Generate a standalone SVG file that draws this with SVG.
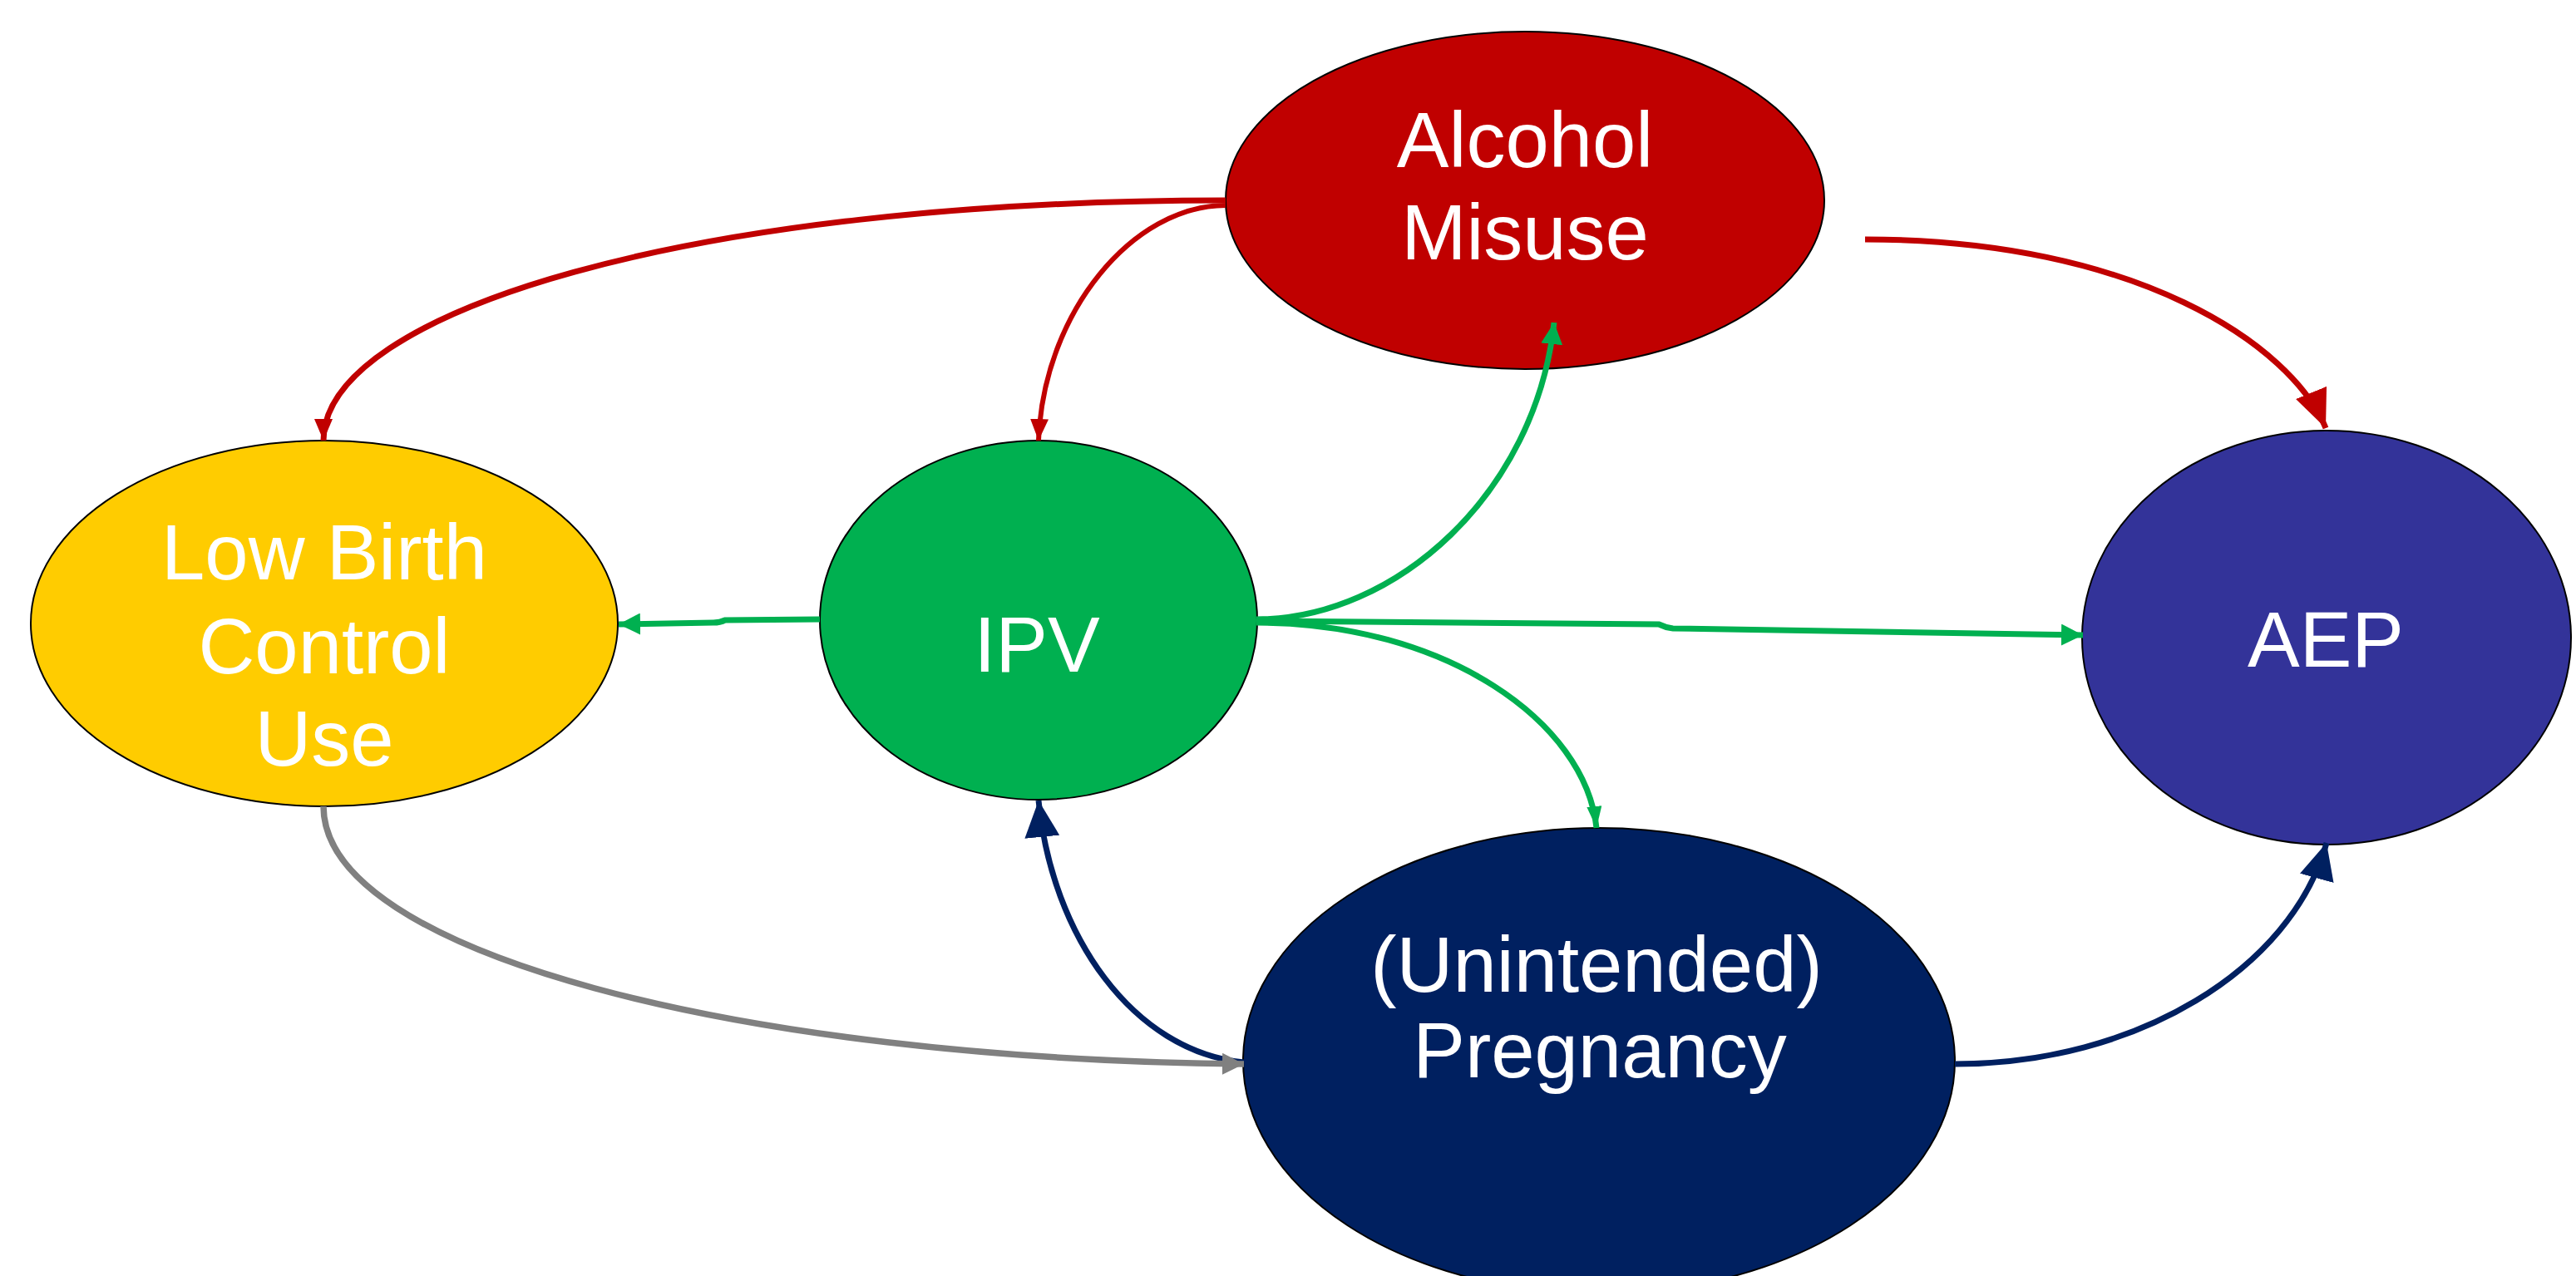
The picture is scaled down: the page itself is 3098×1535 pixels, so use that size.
<svg xmlns="http://www.w3.org/2000/svg" width="3098" height="1535" viewBox="0 0 3098 1535">
<style>
.node ellipse{stroke:#000;stroke-width:2}
.node text{font-family:"Liberation Sans",Arial,sans-serif;font-size:94px;fill:#fff;text-anchor:middle}
.c{fill:none}
.red{stroke:#C00000;stroke-width:7}
.green{stroke:#00B050;stroke-width:7}
.navy{stroke:#002060;stroke-width:7}
.gray{stroke:#808080;stroke-width:7.5}
</style>
<defs>
<marker id="mRedS" markerUnits="userSpaceOnUse" markerWidth="26" markerHeight="22" refX="26" refY="11" orient="auto"><path d="M0,0 L26,11 L0,22 z" fill="#C00000"/></marker>
<marker id="mRedL" markerUnits="userSpaceOnUse" markerWidth="46" markerHeight="40" refX="46" refY="20" orient="auto"><path d="M0,0 L46,20 L0,40 z" fill="#C00000"/></marker>
<marker id="mGreen" markerUnits="userSpaceOnUse" markerWidth="26" markerHeight="26" refX="26" refY="13" orient="auto"><path d="M0,0 L26,13 L0,26 z" fill="#00B050"/></marker>
<marker id="mGreenN" markerUnits="userSpaceOnUse" markerWidth="26" markerHeight="18" refX="26" refY="9" orient="auto"><path d="M0,0 L26,9 L0,18 z" fill="#00B050"/></marker>
<marker id="mNavy" markerUnits="userSpaceOnUse" markerWidth="44" markerHeight="42" refX="44" refY="21" orient="auto"><path d="M0,0 L44,21 L0,42 z" fill="#002060"/></marker>
<marker id="mGray" markerUnits="userSpaceOnUse" markerWidth="26" markerHeight="26" refX="26" refY="13" orient="auto"><path d="M0,0 L26,13 L0,26 z" fill="#808080"/></marker>
</defs>
<rect width="3098" height="1535" fill="#fff"/>
<g id="node-alcohol" class="node">
<ellipse cx="1834" cy="241" rx="360" ry="203" fill="#C00000"/>
<text x="1834" y="201">Alcohol</text>
<text x="1834" y="312">Misuse</text>
</g>
<g id="node-lbc" class="node">
<ellipse cx="390" cy="750" rx="353" ry="220" fill="#FFCC00"/>
<text x="390" y="697">Low Birth</text>
<text x="390" y="810">Control</text>
<text x="390" y="921">Use</text>
</g>
<g id="node-ipv" class="node">
<ellipse cx="1249" cy="746" rx="263" ry="216" fill="#00B050"/>
<text x="1247" y="808">IPV</text>
</g>
<g id="node-aep" class="node">
<ellipse cx="2798" cy="767" rx="294" ry="249" fill="#333399"/>
<text x="2797" y="802">AEP</text>
</g>
<g id="node-preg" class="node">
<ellipse cx="1923" cy="1276" rx="428" ry="280" fill="#002060"/>
<text x="1920" y="1193">(Unintended)</text>
<text x="1924" y="1296">Pregnancy</text>
</g>
<g id="connectors">
<path class="c red" d="M1474,241 C830,241 389,375 389,530" marker-end="url(#mRedS)"/>
<path class="c red" style="stroke-width:6" d="M1474,247 C1363,247 1255,375 1249,530" marker-end="url(#mRedS)"/>
<path class="c red" d="M2243,288 C2569,288 2756,415 2797,515" marker-end="url(#mRedL)"/>
<path class="c green" d="M986,745 L872,746 Q866,749 858,749 L744,751" marker-end="url(#mGreen)"/>
<path class="c green" d="M1511,745 C1679,745 1847,593 1869,388" marker-end="url(#mGreen)"/>
<path class="c green" d="M1511,747 L1995,751 Q2003,755 2012,756 L2505,764" marker-end="url(#mGreen)"/>
<path class="c green" d="M1511,749 C1739,749 1907,869 1920,996" marker-end="url(#mGreenN)"/>
<path class="c navy" d="M1496,1278 C1363,1265 1265,1126 1249,963" marker-end="url(#mNavy)"/>
<path class="c navy" d="M2351,1280 C2569,1280 2756,1166 2798,1014" marker-end="url(#mNavy)"/>
<path class="c gray" d="M389,970 C389,1146 889,1274 1496,1280" marker-end="url(#mGray)"/>
</g>
</svg>
